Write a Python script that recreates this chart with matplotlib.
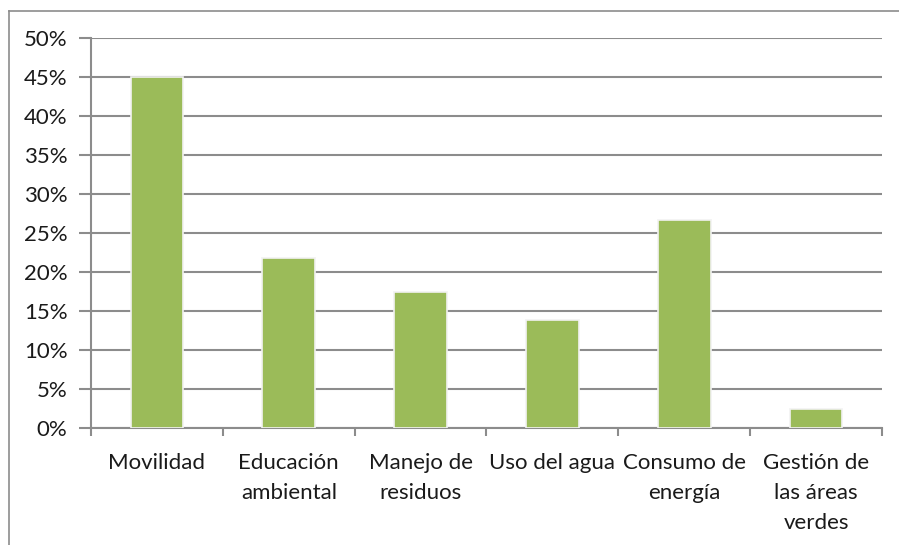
import numpy as np
import matplotlib.pyplot as plt
from matplotlib.lines import Line2D
from matplotlib.ticker import MultipleLocator, FuncFormatter

categories = ["Movilidad", "Educación\nambiental", "Manejo de\nresiduos",
              "Uso del agua", "Consumo de\nenergía", "Gestión de\nlas áreas\nverdes"]
values = [45.0, 21.8, 17.4, 13.8, 26.7, 2.5]

plt.rcParams['font.family'] = ['Lato', 'DejaVu Sans']

fig = plt.figure(figsize=(8.99, 5.45), dpi=100)
ax = fig.add_axes([91 / 899, 117 / 545, 791 / 899, 390 / 545])

x = np.arange(len(categories))
ax.bar(x, values, width=0.4, color="#9BBB59", edgecolor="#f2f2f2", linewidth=1.2, zorder=3)

ax.set_xlim(-0.5, len(categories) - 0.5)
ax.set_ylim(0, 50)
ax.yaxis.set_major_locator(MultipleLocator(5))
ax.yaxis.set_major_formatter(FuncFormatter(lambda v, p: f"{v:.0f}%"))
ax.grid(axis="y", color="#8c8c8c", linewidth=1.5, zorder=0)

for s in ["top", "right"]:
    ax.spines[s].set_visible(False)
for s in ["left", "bottom"]:
    ax.spines[s].set_color("#8c8c8c")
    ax.spines[s].set_linewidth(1.5)

ax.set_xticks(np.arange(-0.5, len(categories)), minor=False)
ax.set_xticklabels([])
ax.set_xticks(x, minor=True)
ax.set_xticklabels(categories, minor=True, fontsize=16, color="#1a1a1a",
                   va="top", linespacing=1.62)
ax.tick_params(axis="x", which="major", length=6, width=1.5, color="#8c8c8c", direction="out")
ax.tick_params(axis="x", which="minor", length=0, pad=18)
ax.tick_params(axis="y", length=9, width=1.5, color="#8c8c8c", labelsize=16,
               labelcolor="#1a1a1a", pad=8)

# outer chart frame (left and top edges visible)
fig.add_artist(Line2D([9 / 899, 9 / 899], [0, 534 / 545], color="#8c8c8c", linewidth=1.2))
fig.add_artist(Line2D([9 / 899, 1], [534 / 545, 534 / 545], color="#8c8c8c", linewidth=1.2))

fig.savefig("out.png", dpi=100)
